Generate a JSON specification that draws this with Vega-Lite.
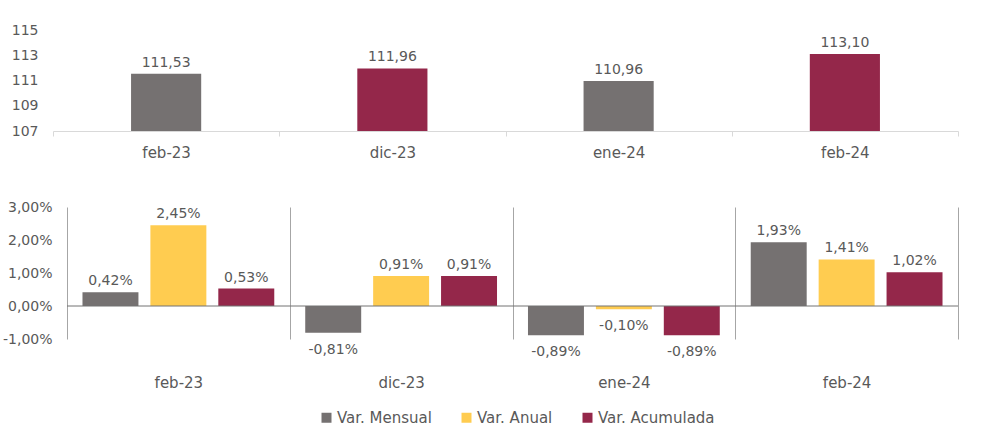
{
  "$schema": "https://vega.github.io/schema/vega-lite/v6.json",
  "padding": {"left": 0, "top": 23, "right": 0, "bottom": 0},
  "background": "white",
  "spacing": 40,
  "config": {
    "font": "DejaVu Sans",
    "view": {"stroke": null},
    "axis": {"labelColor": "#595959", "labelFont": "DejaVu Sans"},
    "legend": {"labelColor": "#595959", "labelFont": "DejaVu Sans"},
    "locale": {
      "number": {"decimal": ",", "thousands": ".", "grouping": [3], "currency": ["", " €"], "minus": "-", "percent": "%"}
    }
  },
  "resolve": {"scale": {"color": "independent"}, "legend": {"color": "independent"}},
  "vconcat": [
    {
      "width": 891,
      "height": 101,
      "data": {
        "values": [
          {"mes": "feb-23", "indice": 111.53, "grupo": "mensual"},
          {"mes": "dic-23", "indice": 111.96, "grupo": "acumulado"},
          {"mes": "ene-24", "indice": 110.96, "grupo": "mensual"},
          {"mes": "feb-24", "indice": 113.10, "grupo": "acumulado"}
        ]
      },
      "encoding": {
        "x": {
          "field": "mes", "type": "nominal", "sort": null,
          "scale": {"paddingInner": 0, "paddingOuter": 0, "range": [-14, 891]},
          "axis": {"title": null, "labelAngle": 0, "labelFontSize": 15, "domainColor": "#d9d9d9", "tickColor": "#d9d9d9", "tickSize": 5, "tickBand": "extent", "labelPadding": 9, "grid": false}
        },
        "y": {
          "field": "indice", "type": "quantitative",
          "scale": {"domain": [107, 115], "nice": false, "zero": false},
          "axis": {"title": null, "values": [107, 109, 111, 113, 115], "domain": false, "ticks": false, "grid": false, "labelPadding": 29, "minExtent": 67, "labelFontSize": 14, "labelOverlap": false}
        }
      },
      "layer": [
        {
          "mark": {"type": "bar", "width": {"band": 0.31}},
          "encoding": {
            "y2": {"datum": 107},
            "color": {
              "field": "grupo", "type": "nominal",
              "scale": {"domain": ["mensual", "acumulado"], "range": ["#757171", "#94274A"]},
              "legend": null
            }
          }
        },
        {
          "mark": {"type": "text", "baseline": "bottom", "dy": -4, "fontSize": 14, "color": "#595959"},
          "encoding": {
            "text": {"field": "indice", "type": "quantitative", "format": ".2f"}
          }
        }
      ]
    },
    {
      "width": 891,
      "height": 132,
      "data": {
        "values": [
          {"mes": "feb-23", "serie": "Var. Mensual", "valor": 0.0042},
          {"mes": "feb-23", "serie": "Var. Anual", "valor": 0.0245},
          {"mes": "feb-23", "serie": "Var. Acumulada", "valor": 0.0053},
          {"mes": "dic-23", "serie": "Var. Mensual", "valor": -0.0081},
          {"mes": "dic-23", "serie": "Var. Anual", "valor": 0.0091},
          {"mes": "dic-23", "serie": "Var. Acumulada", "valor": 0.0091},
          {"mes": "ene-24", "serie": "Var. Mensual", "valor": -0.0089},
          {"mes": "ene-24", "serie": "Var. Anual", "valor": -0.0010},
          {"mes": "ene-24", "serie": "Var. Acumulada", "valor": -0.0089},
          {"mes": "feb-24", "serie": "Var. Mensual", "valor": 0.0193},
          {"mes": "feb-24", "serie": "Var. Anual", "valor": 0.0141},
          {"mes": "feb-24", "serie": "Var. Acumulada", "valor": 0.0102}
        ]
      },
      "encoding": {
        "y": {
          "field": "valor", "type": "quantitative",
          "scale": {"domain": [-0.01, 0.03], "nice": false},
          "axis": {"title": null, "format": ".2%", "values": [-0.01, 0, 0.01, 0.02, 0.03], "domain": false, "ticks": false, "grid": false, "labelPadding": 15, "minExtent": 67, "labelFontSize": 14, "labelOverlap": false}
        }
      },
      "layer": [
        {
          "mark": {"type": "bar"},
          "encoding": {
            "x": {
              "field": "mes", "type": "nominal", "sort": ["feb-23", "dic-23", "ene-24", "feb-24"],
              "scale": {"paddingInner": 0, "paddingOuter": 0},
              "axis": {"title": null, "labelAngle": 0, "labelFontSize": 15, "domain": false, "ticks": false, "grid": true, "gridColor": "#a6a6a6", "gridWidth": 1, "tickBand": "extent", "labelPadding": 36}
            },
            "xOffset": {
              "field": "serie", "type": "nominal", "sort": ["Var. Mensual", "Var. Anual", "Var. Acumulada"],
              "scale": {"paddingInner": 0.176, "paddingOuter": 0.228}
            },
            "color": {
              "field": "serie", "type": "nominal",
              "scale": {"domain": ["Var. Mensual", "Var. Anual", "Var. Acumulada"], "range": ["#757171", "#FFCC50", "#94274A"]},
              "legend": {"orient": "none", "legendX": 252, "legendY": 203, "direction": "horizontal", "title": null, "symbolType": "square", "symbolSize": 100, "symbolStrokeWidth": 0, "labelFontSize": 15, "columnPadding": 27, "labelOffset": 3}
            }
          }
        },
        {
          "data": {"values": [{"valor": 0}]},
          "mark": {"type": "rule", "color": "#737373", "strokeWidth": 1},
          "encoding": {}
        },
        {
          "transform": [{"filter": "datum.valor >= 0"}],
          "mark": {"type": "text", "baseline": "bottom", "dy": -4, "fontSize": 14, "color": "#595959"},
          "encoding": {
            "x": {"field": "mes", "type": "nominal", "sort": ["feb-23", "dic-23", "ene-24", "feb-24"]},
            "xOffset": {"field": "serie", "type": "nominal", "sort": ["Var. Mensual", "Var. Anual", "Var. Acumulada"]},
            "text": {"field": "valor", "type": "quantitative", "format": ".2%"}
          }
        },
        {
          "transform": [{"filter": "datum.valor < 0"}],
          "mark": {"type": "text", "baseline": "top", "dy": 10, "fontSize": 14, "color": "#595959"},
          "encoding": {
            "x": {"field": "mes", "type": "nominal", "sort": ["feb-23", "dic-23", "ene-24", "feb-24"]},
            "xOffset": {"field": "serie", "type": "nominal", "sort": ["Var. Mensual", "Var. Anual", "Var. Acumulada"]},
            "text": {"field": "valor", "type": "quantitative", "format": ".2%"}
          }
        }
      ]
    }
  ]
}
